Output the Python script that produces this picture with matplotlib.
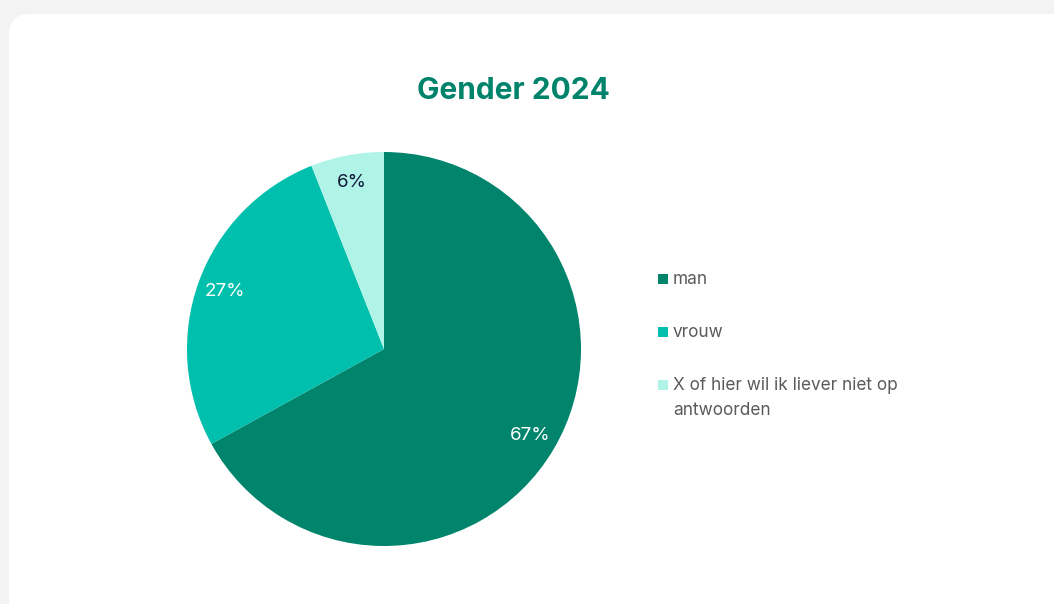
import matplotlib
matplotlib.use("Agg")
import matplotlib.pyplot as plt
from matplotlib.patches import FancyBboxPatch, Rectangle

categories = ["man", "vrouw", "X of hier wil ik liever niet op\nantwoorden"]
values = [67, 27, 6]
colors = ["#00846c", "#00bfad", "#b0f3e7"]
label_colors = ["white", "white", "#101838"]
title = "Gender 2024"

W, H = 1054, 604
fig = plt.figure(figsize=(W / 100, H / 100), dpi=100)
fig.patch.set_facecolor("#f3f3f3")

# card (rounded top-left corner visible)
card = FancyBboxPatch((9 / W, -0.2), 1.2, 1.2 - 14 / H, boxstyle="round,pad=0,rounding_size=0.02",
                      transform=fig.transFigure, facecolor="white", edgecolor="none",
                      mutation_aspect=W / H, zorder=-10)
fig.patches.append(card)

font = ["Inter", "DejaVu Sans"]

fig.text(513 / W, 1 - 91 / H, title, ha="center", va="center", fontsize=21.5,
         fontweight="bold", color="#00836b", family=font)

cx, cy, r = 384, 349, 197
ax = fig.add_axes([(cx - r) / W, 1 - (cy + r) / H, 2 * r / W, 2 * r / H])
ax.set_zorder(5)
wedges, texts, autotexts = ax.pie(values, colors=colors, startangle=90, counterclock=False,
                                  autopct="%d%%", pctdistance=0.86, radius=1,
                                  wedgeprops=dict(linewidth=0),
                                  textprops=dict(fontsize=13.5, family=font))
for t, c in zip(autotexts, label_colors):
    t.set_color(c)
ax.set_xlim(-1, 1)
ax.set_ylim(-1, 1)
ax.set_aspect("equal")
ax.axis("off")

# legend
ys = [279, 332, 385]
for lab, col, y in zip(categories, colors, ys):
    fig.patches.append(Rectangle((658 / W, 1 - (y + 5) / H), 10 / W, 10 / H,
                                 transform=fig.transFigure, facecolor=col, edgecolor="none",
                                 zorder=2))
    fig.text(673 / W, 1 - (y - 8) / H, lab, ha="left", va="top", fontsize=12.4,
             color="#5a5a5a", family=font, linespacing=1.65)

fig.savefig("out.png", dpi=100, facecolor=fig.get_facecolor())
